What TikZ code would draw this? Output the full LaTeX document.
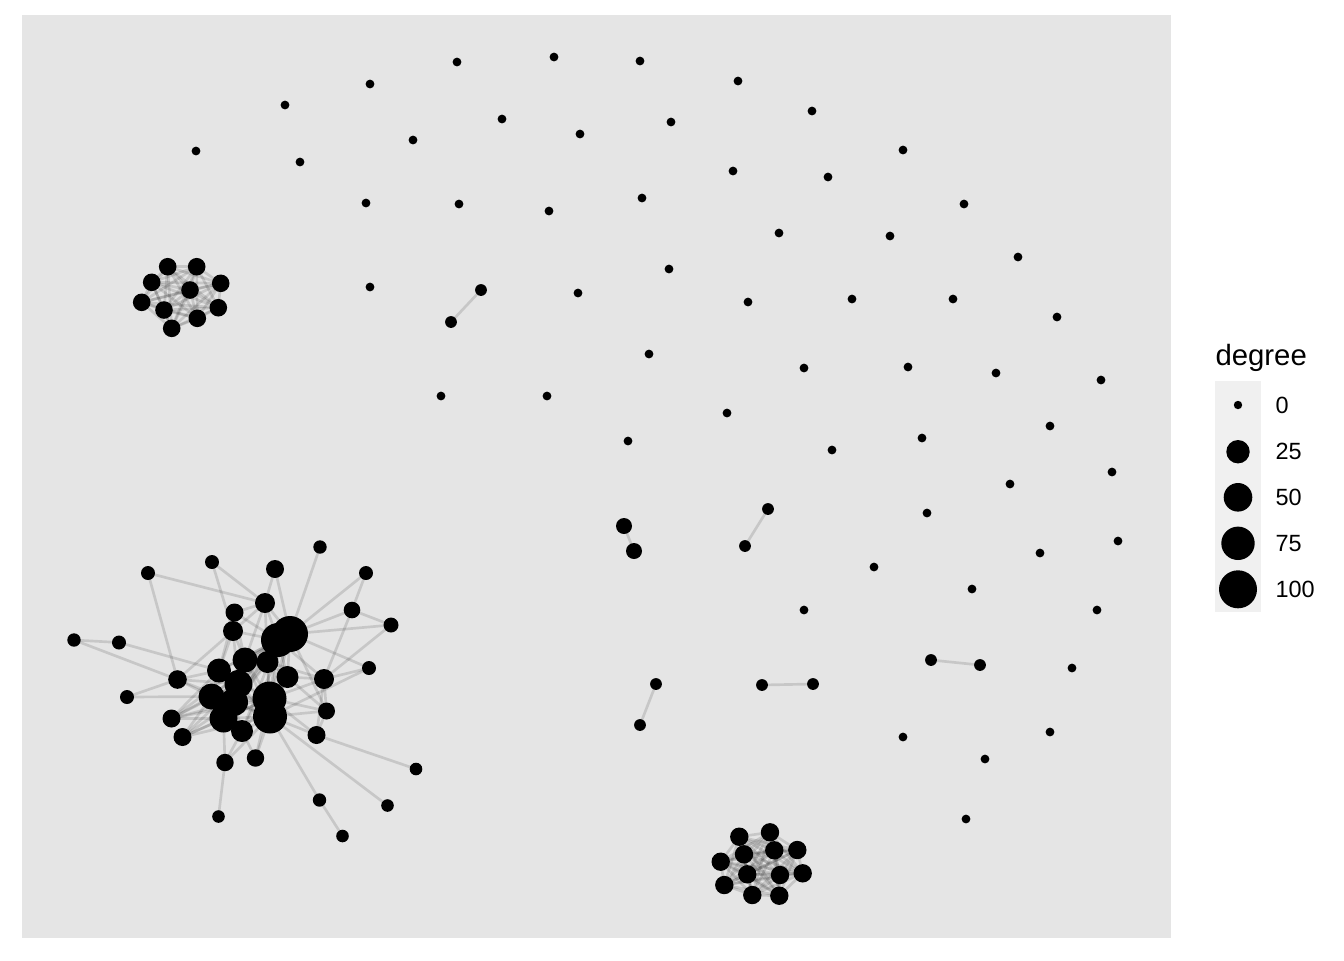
\documentclass[tikz,border=0pt]{standalone}
\usepackage{fontspec}
\setmainfont{Liberation Sans}
\pgfdeclarelayer{back}
\pgfdeclarelayer{edges}
\pgfsetlayers{back,edges,main}
\definecolor{panelbg}{HTML}{E5E5E5}
\definecolor{keybg}{HTML}{F0F0F0}
\newcommand\V[4]{\node[vtx=#4] (#1) at (#2,#3) {};}
\newcommand\E[2]{\draw[edgeline] (#1.center) -- (#2.center);}
\begin{document}
\begin{tikzpicture}[x=0.375pt,y=-0.375pt,
  vtx/.style={circle,fill=black,draw=none,inner sep=0pt,minimum size=#1*0.75pt},
  edgeline/.style={draw=black,opacity=0.13,line width=1pt},
  legtext/.style={anchor=west,inner sep=0pt,font=\fontsize{8.8}{10}\selectfont}]
\useasboundingbox (0,0) rectangle (1344,960);
\begin{pgfonlayer}{back}
\fill[white] (0,0) rectangle (1344,960);
\fill[panelbg] (22,15) rectangle (1171,938);
\end{pgfonlayer}

% isolated vertices
\foreach [count=\k] \x/\y in {196/151,285/105,370/84,457/62,554/57,640/61,738/81,812/111,903/150,964/204,1018/257,1057/317,1101/380,1050/426,1112/472,1118/541,1097/610,1072/668,1050/732,985/759,966/819,903/737,
300/162,413/140,502/119,580/134,671/122,733/171,828/177,890/236,953/299,996/373,1010/484,1040/553,972/589,
366/203,459/204,549/211,642/198,779/233,852/299,908/367,922/438,927/513,874/567,804/610,
370/287,578/293,669/269,748/302,649/354,804/368,727/413,832/450,628/441,547/396,441/396}
  {\node[vtx=4.4] (z\k) at (\x,\y) {};}

% pairs
\V{p1a}{481}{290}{5.9}\V{p1b}{451}{322}{5.9}
\V{p2a}{768}{509}{5.9}\V{p2b}{745}{546}{5.9}
\V{p3a}{656}{684}{5.9}\V{p3b}{640}{725}{5.9}
\V{p4a}{762}{685}{5.9}\V{p4b}{813}{684}{5.9}
\V{p5a}{931}{660}{5.9}\V{p5b}{980}{665}{5.9}
\V{p6a}{624}{526}{8}\V{p6b}{634}{551}{8}

% top-left clique
\foreach [count=\k from 0] \x/\y in {167.7/266.7,196.7/266.7,151.7/282.3,220.7/283.3,190/290,141.7/302.3,218.3/307.7,164/310,197.3/318.3,171.7/328.3}
  {\node[vtx=8.8] (a\k) at (\x,\y) {};}

% bottom clique
\foreach [count=\k from 0] \x/\y in {739.3/836.7,770/832.3,744/854.3,774.3/850.3,797.3/850,720.7/861.7,747.3/874.3,780/875,802.7/873.3,724.3/885,752.3/895,779.3/895.7}
  {\node[vtx=9.2] (b\k) at (\x,\y) {};}

% big component
\V{n1}{212}{562}{7}
\V{n2}{148}{573}{7}
\V{n3}{320}{547}{6.7}
\V{n4}{275}{569}{9}
\V{n5}{366}{573}{7}
\V{n6}{265}{603}{10}
\V{n7}{234.5}{612.5}{9}
\V{n8}{352}{610}{8.3}
\V{n9}{391}{625}{7.5}
\V{n10}{233}{631}{10}
\V{n11}{278}{640}{17}
\V{n12}{290}{634}{18}
\V{n13}{74}{640}{6.7}
\V{n14}{119}{642.5}{7}
\V{n15}{245}{660}{12.5}
\V{n16}{267.5}{662}{11}
\V{n17}{219}{670.5}{12}
\V{n18}{369}{668}{7}
\V{n19}{177.5}{679.5}{9.3}
\V{n20}{287.5}{677}{11}
\V{n21}{324}{679}{10}
\V{n22}{238.5}{684}{14}
\V{n23}{211.5}{696.5}{13}
\V{n24}{127}{697}{7}
\V{n25}{269.5}{698.5}{17}
\V{n26}{234}{702}{14}
\V{n27}{326.5}{711}{8.5}
\V{n28}{171.5}{718.5}{9}
\V{n29}{223.5}{718.5}{14}
\V{n30}{270}{716.5}{17}
\V{n31}{182.5}{737}{9}
\V{n32}{242}{731}{11}
\V{n33}{316.5}{735}{9}
\V{n34}{225}{762.5}{8.7}
\V{n35}{255.5}{758}{8.7}
\V{n36}{416}{769}{6.3}
\V{n37}{319.5}{800}{6.7}
\V{n38}{387.5}{805.5}{6.3}
\V{n39}{218.5}{816.5}{6.3}
\V{n40}{342.5}{836}{6.3}

\begin{pgfonlayer}{edges}
\E{p1a}{p1b}\E{p2a}{p2b}\E{p3a}{p3b}\E{p4a}{p4b}\E{p5a}{p5b}\E{p6a}{p6b}
\foreach \i in {0,...,8}{\pgfmathtruncatemacro\s{\i+1}\foreach \j in {\s,...,9}{\E{a\i}{a\j}}}
\foreach \i in {0,...,10}{\pgfmathtruncatemacro\s{\i+1}\foreach \j in {\s,...,11}{\E{b\i}{b\j}}}
% peripheral edges
\foreach \a/\b in {n1/n6,n1/n10,n2/n6,n2/n19,n3/n12,n4/n6,n4/n12,n5/n12,n5/n8,n8/n12,n8/n9,n8/n21,n9/n12,n9/n21,
  n13/n14,n13/n19,n14/n17,n18/n12,n18/n21,n18/n30,n24/n19,n24/n23,n36/n33,n37/n30,n37/n40,n38/n30,n39/n34,
  n34/n29,n34/n30,n34/n32,n35/n30,n35/n32,n35/n25,n19/n17,n19/n23,n19/n10,n19/n22,n19/n26,
  n28/n23,n28/n29,n28/n17,n28/n22,n28/n25,n28/n26,n28/n11,n31/n29,n31/n26,n31/n23,n31/n25,n31/n30,n31/n22,
  n33/n30,n33/n25,n33/n21,n33/n27,n27/n25,n27/n30,n27/n20,n27/n21,n27/n12,n21/n20,n21/n25,n21/n11,n21/n16,
  n6/n12,n6/n11,n6/n7,n6/n10,n6/n15,n6/n16,n7/n10,n7/n11,n7/n15,n7/n17,n10/n15,n10/n17,n10/n11,n10/n22,
  n22/n23,n22/n26,n23/n29,n26/n29,n26/n32,n29/n32,n15/n16,n15/n22,n16/n20,n17/n22,n17/n23,
  n11/n12,n11/n25,n11/n30,n12/n25,n12/n30,n25/n30}
  {\E{\a}{\b}}
\foreach \h in {n11,n12,n25,n30}
  \foreach \o in {n15,n16,n17,n20,n22,n23,n26,n29,n32}
    {\E{\h}{\o}}
\end{pgfonlayer}

% legend
\node[anchor=base west,inner sep=0pt,font=\fontsize{11}{13}\selectfont] (legtitle) at (1215,365) {degree};
\fill[keybg] (1215,381) rectangle (1261,612);
\V{k0}{1238}{405}{4.2}
\V{k25}{1238}{451.7}{11.7}
\V{k50}{1238}{497.3}{14.3}
\V{k75}{1238}{543.3}{16.7}
\V{k100}{1238}{589.3}{19}
\node[legtext] (l0) at (1275,405) {0};
\node[legtext] (l25) at (1275,451.7) {25};
\node[legtext] (l50) at (1275,497.3) {50};
\node[legtext] (l75) at (1275,543.3) {75};
\node[legtext] (l100) at (1275,589.3) {100};
\end{tikzpicture}
\end{document}
